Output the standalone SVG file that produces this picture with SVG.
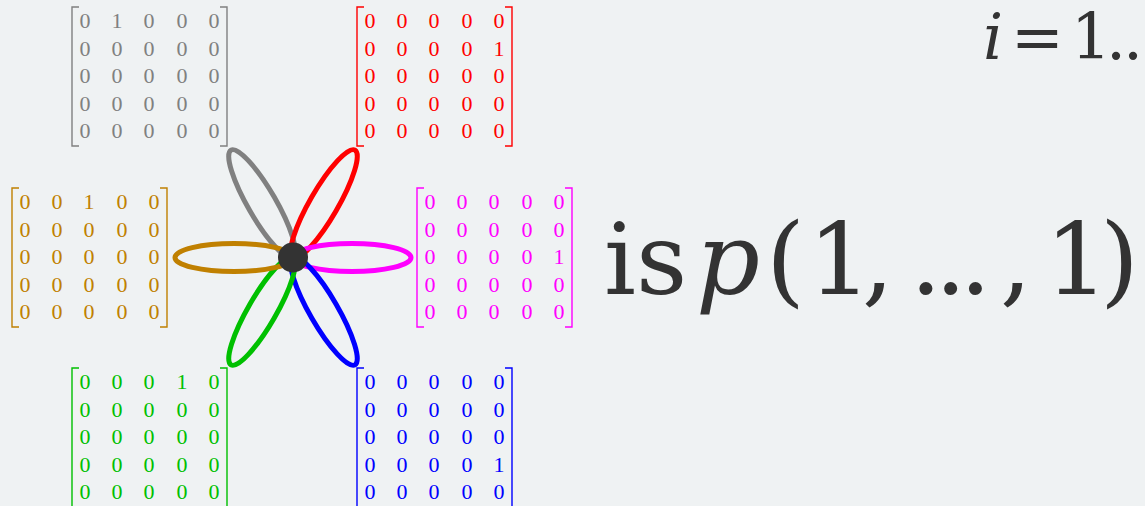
<svg xmlns="http://www.w3.org/2000/svg" width="1145" height="506" viewBox="0 0 1145 506">
<style>
.bg{fill:#eff2f3}
.m text{font-family:"Liberation Serif",serif;font-size:22px;text-anchor:middle}
.br{fill:none;stroke-width:1.4}
.petal{fill:none;stroke-width:5}
.big{font-family:"DejaVu Serif",serif;fill:#333}
</style>
<defs>
<path id="brk" d="M7,0 H0 V139 H7 M148,0 H155 V139 H148"/>
</defs>
<rect class="bg" x="0" y="0" width="1145" height="506"/>

<g id="connectors">
<ellipse class="petal" stroke="#808080" cx="355" cy="257.5" rx="62" ry="14" transform="rotate(240 293 257.5)"/>
<ellipse class="petal" stroke="#ff0000" cx="355" cy="257.5" rx="62" ry="14" transform="rotate(300 293 257.5)"/>
<ellipse class="petal" stroke="#ff00ff" cx="352" cy="257.5" rx="59" ry="14"/>
<ellipse class="petal" stroke="#0000ff" cx="355" cy="257.5" rx="62" ry="14" transform="rotate(60 293 257.5)"/>
<ellipse class="petal" stroke="#00c000" cx="355" cy="257.5" rx="62" ry="14" transform="rotate(120 293 257.5)"/>
<ellipse class="petal" stroke="#c08000" cx="352" cy="257.5" rx="59" ry="14" transform="rotate(180 293 257.5)"/>
</g>

<g id="center">
<circle cx="293" cy="257.5" r="15" fill="#333"/>
</g>

<g id="m-gray" class="m" transform="translate(72,7)" fill="#808080">
<use href="#brk" class="br" stroke="#808080"/>
<text x="13" y="21">0</text><text x="45" y="21">1</text><text x="77" y="21">0</text><text x="110" y="21">0</text><text x="142" y="21">0</text>
<text x="13" y="48.5">0</text><text x="45" y="48.5">0</text><text x="77" y="48.5">0</text><text x="110" y="48.5">0</text><text x="142" y="48.5">0</text>
<text x="13" y="76">0</text><text x="45" y="76">0</text><text x="77" y="76">0</text><text x="110" y="76">0</text><text x="142" y="76">0</text>
<text x="13" y="103.5">0</text><text x="45" y="103.5">0</text><text x="77" y="103.5">0</text><text x="110" y="103.5">0</text><text x="142" y="103.5">0</text>
<text x="13" y="131">0</text><text x="45" y="131">0</text><text x="77" y="131">0</text><text x="110" y="131">0</text><text x="142" y="131">0</text>
</g>

<g id="m-red" class="m" transform="translate(357,7)" fill="#ff0000">
<use href="#brk" class="br" stroke="#ff0000"/>
<text x="13" y="21">0</text><text x="45" y="21">0</text><text x="77" y="21">0</text><text x="110" y="21">0</text><text x="142" y="21">0</text>
<text x="13" y="48.5">0</text><text x="45" y="48.5">0</text><text x="77" y="48.5">0</text><text x="110" y="48.5">0</text><text x="142" y="48.5">1</text>
<text x="13" y="76">0</text><text x="45" y="76">0</text><text x="77" y="76">0</text><text x="110" y="76">0</text><text x="142" y="76">0</text>
<text x="13" y="103.5">0</text><text x="45" y="103.5">0</text><text x="77" y="103.5">0</text><text x="110" y="103.5">0</text><text x="142" y="103.5">0</text>
<text x="13" y="131">0</text><text x="45" y="131">0</text><text x="77" y="131">0</text><text x="110" y="131">0</text><text x="142" y="131">0</text>
</g>

<g id="m-gold" class="m" transform="translate(12,188)" fill="#c08000">
<use href="#brk" class="br" stroke="#c08000"/>
<text x="13" y="21">0</text><text x="45" y="21">0</text><text x="77" y="21">1</text><text x="110" y="21">0</text><text x="142" y="21">0</text>
<text x="13" y="48.5">0</text><text x="45" y="48.5">0</text><text x="77" y="48.5">0</text><text x="110" y="48.5">0</text><text x="142" y="48.5">0</text>
<text x="13" y="76">0</text><text x="45" y="76">0</text><text x="77" y="76">0</text><text x="110" y="76">0</text><text x="142" y="76">0</text>
<text x="13" y="103.5">0</text><text x="45" y="103.5">0</text><text x="77" y="103.5">0</text><text x="110" y="103.5">0</text><text x="142" y="103.5">0</text>
<text x="13" y="131">0</text><text x="45" y="131">0</text><text x="77" y="131">0</text><text x="110" y="131">0</text><text x="142" y="131">0</text>
</g>

<g id="m-magenta" class="m" transform="translate(417,188)" fill="#ff00ff">
<use href="#brk" class="br" stroke="#ff00ff"/>
<text x="13" y="21">0</text><text x="45" y="21">0</text><text x="77" y="21">0</text><text x="110" y="21">0</text><text x="142" y="21">0</text>
<text x="13" y="48.5">0</text><text x="45" y="48.5">0</text><text x="77" y="48.5">0</text><text x="110" y="48.5">0</text><text x="142" y="48.5">0</text>
<text x="13" y="76">0</text><text x="45" y="76">0</text><text x="77" y="76">0</text><text x="110" y="76">0</text><text x="142" y="76">1</text>
<text x="13" y="103.5">0</text><text x="45" y="103.5">0</text><text x="77" y="103.5">0</text><text x="110" y="103.5">0</text><text x="142" y="103.5">0</text>
<text x="13" y="131">0</text><text x="45" y="131">0</text><text x="77" y="131">0</text><text x="110" y="131">0</text><text x="142" y="131">0</text>
</g>

<g id="m-green" class="m" transform="translate(72,368)" fill="#00c000">
<use href="#brk" class="br" stroke="#00c000"/>
<text x="13" y="21">0</text><text x="45" y="21">0</text><text x="77" y="21">0</text><text x="110" y="21">1</text><text x="142" y="21">0</text>
<text x="13" y="48.5">0</text><text x="45" y="48.5">0</text><text x="77" y="48.5">0</text><text x="110" y="48.5">0</text><text x="142" y="48.5">0</text>
<text x="13" y="76">0</text><text x="45" y="76">0</text><text x="77" y="76">0</text><text x="110" y="76">0</text><text x="142" y="76">0</text>
<text x="13" y="103.5">0</text><text x="45" y="103.5">0</text><text x="77" y="103.5">0</text><text x="110" y="103.5">0</text><text x="142" y="103.5">0</text>
<text x="13" y="131">0</text><text x="45" y="131">0</text><text x="77" y="131">0</text><text x="110" y="131">0</text><text x="142" y="131">0</text>
</g>

<g id="m-blue" class="m" transform="translate(357,368)" fill="#0000ff">
<use href="#brk" class="br" stroke="#0000ff"/>
<text x="13" y="21">0</text><text x="45" y="21">0</text><text x="77" y="21">0</text><text x="110" y="21">0</text><text x="142" y="21">0</text>
<text x="13" y="48.5">0</text><text x="45" y="48.5">0</text><text x="77" y="48.5">0</text><text x="110" y="48.5">0</text><text x="142" y="48.5">0</text>
<text x="13" y="76">0</text><text x="45" y="76">0</text><text x="77" y="76">0</text><text x="110" y="76">0</text><text x="142" y="76">0</text>
<text x="13" y="103.5">0</text><text x="45" y="103.5">0</text><text x="77" y="103.5">0</text><text x="110" y="103.5">0</text><text x="142" y="103.5">1</text>
<text x="13" y="131">0</text><text x="45" y="131">0</text><text x="77" y="131">0</text><text x="110" y="131">0</text><text x="142" y="131">0</text>
</g>

<g id="label-range">
<text class="big" font-size="63" y="59"><tspan x="983" font-style="italic">i</tspan><tspan x="1011">=</tspan><tspan x="1071" letter-spacing="-5">1</tspan><tspan x="1106" letter-spacing="-3">..</tspan></text>
</g>

<g id="label-main">
<text class="big" font-size="100" y="294"><tspan x="604">is</tspan><tspan x="696" font-style="italic">p</tspan><tspan x="766">(</tspan><tspan x="808" letter-spacing="-10">1</tspan><tspan x="862">,</tspan><tspan x="910" letter-spacing="-7">...</tspan><tspan x="1000">,</tspan><tspan x="1045" letter-spacing="-10">1</tspan><tspan x="1100">)</tspan></text>
</g>
</svg>
